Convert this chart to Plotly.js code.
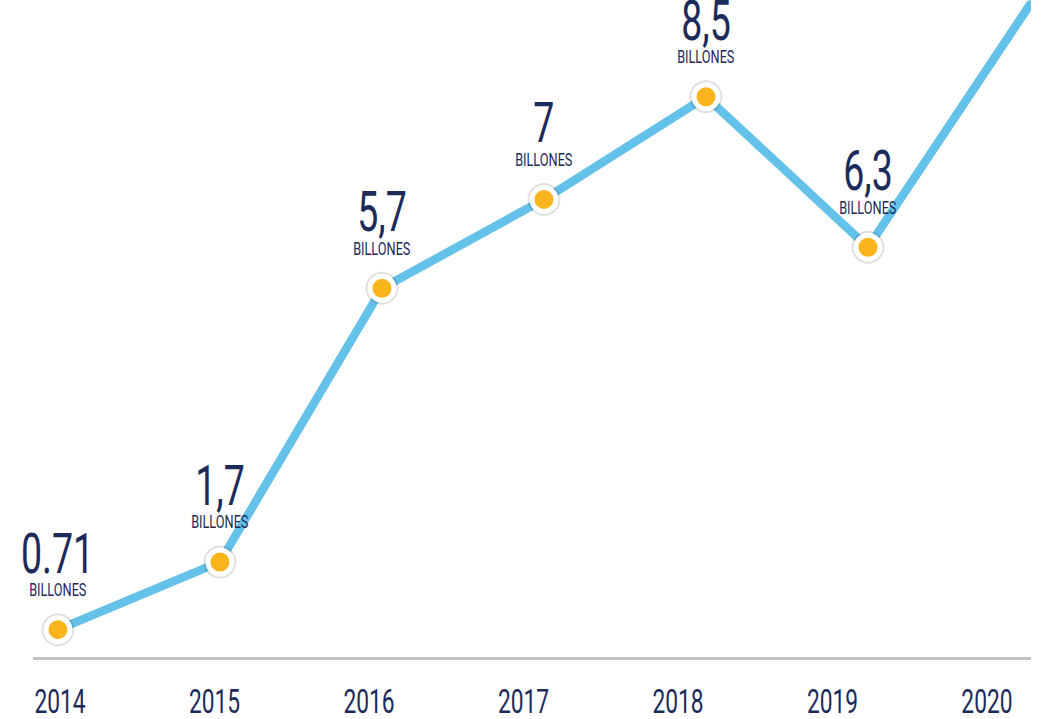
<!DOCTYPE html>
<html>
<head>
<meta charset="utf-8">
<script src="https://cdn.plot.ly/plotly-3.0.1.min.js"></script>
<style>
html,body{margin:0;padding:0;background:#fff;}
#chart{width:1054px;height:719px;}
.scatterlayer .js-line{stroke-linecap:round !important;stroke-linejoin:round !important;}
</style>
</head>
<body>
<div id="chart"></div>
<script>
// ---- data ----
const years = [2014, 2015, 2016, 2017, 2018, 2019, 2020];
const values = [0.71, 1.7, 5.7, 7, 8.5, 6.3, 9.85];      // billones (2020 estimated, no label)
const valueLabels = ["0.71", "1,7", "5,7", "7", "8,5", "6,3"];
const unitLabel = "BILLONES";
const tickLabels = ["2014", "2015", "2016", "2017", "2018", "2019", "2020"];

// ---- style ----
const NAVY = "#1d2b5b";
const BLUE = "#63c1ea";
const ORANGE = "#f9b51b";
const FONT = "Roboto, 'Liberation Sans', sans-serif";
const SQUEEZE = 0.67;   // horizontal condensing to imitate the condensed typeface

const labeledX = years.slice(0, valueLabels.length);
const labeledY = values.slice(0, valueLabels.length);

const traces = [
  { x: years, y: values, type: "scatter", mode: "lines",
    line: { color: BLUE, width: 8.5 }, hoverinfo: "skip", cliponaxis: false },
  { x: labeledX, y: labeledY, type: "scatter", mode: "markers",
    marker: { size: 33, color: "rgba(0,0,0,0.12)" }, hoverinfo: "skip", cliponaxis: false },
  { x: labeledX, y: labeledY, type: "scatter", mode: "markers",
    marker: { size: 24, color: ORANGE, line: { color: "#ffffff", width: 5 } }, cliponaxis: false },
  { x: years, y: values, xaxis: "x2", type: "scatter", mode: "markers",
    marker: { size: 1, color: "rgba(0,0,0,0)" }, hoverinfo: "skip" }
];

const annotations = [];
valueLabels.forEach((t, i) => {
  annotations.push({
    x: labeledX[i], y: labeledY[i], xref: "x", yref: "y",
    text: t, showarrow: false, yanchor: "middle", yshift: 76,
    font: { family: FONT, size: 56, color: NAVY }
  });
  annotations.push({
    x: labeledX[i], y: labeledY[i], xref: "x", yref: "y",
    text: unitLabel, showarrow: false, yanchor: "middle", yshift: 40,
    font: { family: FONT, size: 19, color: NAVY }
  });
});

const layout = {
  width: 1054, height: 719,
  margin: { l: 33, r: 23, t: 0, b: 62 },
  paper_bgcolor: "#ffffff", plot_bgcolor: "#ffffff",
  showlegend: false,
  xaxis: {
    range: [2013.846, 2020.006], showgrid: false, zeroline: false,
    showticklabels: false, ticks: "",
    showline: true, linecolor: "#c3c3c3", linewidth: 3
  },
  xaxis2: {
    overlaying: "x", side: "bottom", range: [2013.825, 2020.285],
    tickvals: years, ticktext: tickLabels,
    showgrid: false, zeroline: false, showline: false,
    ticks: "outside", ticklen: 14, tickcolor: "rgba(0,0,0,0)",
    tickfont: { family: FONT, size: 34, color: NAVY }
  },
  yaxis: {
    range: [0.31, 9.915], showgrid: false, zeroline: false,
    showticklabels: false, ticks: "", showline: false
  },
  annotations: annotations
};

function condense(gd) {
  const sel = gd.querySelectorAll(".annotation-text, .xtick text, .x2tick text");
  sel.forEach(el => {
    const bb = el.getBBox();
    const cx = bb.x + bb.width / 2;
    const prev = el.getAttribute("transform") || "";
    el.setAttribute("transform",
      prev + " translate(" + cx + ",0) scale(" + SQUEEZE + ",1) translate(" + (-cx) + ",0)");
  });
}

Plotly.newPlot("chart", traces, layout, { displayModeBar: false, staticPlot: true })
  .then(gd => condense(gd));
</script>
</body>
</html>
